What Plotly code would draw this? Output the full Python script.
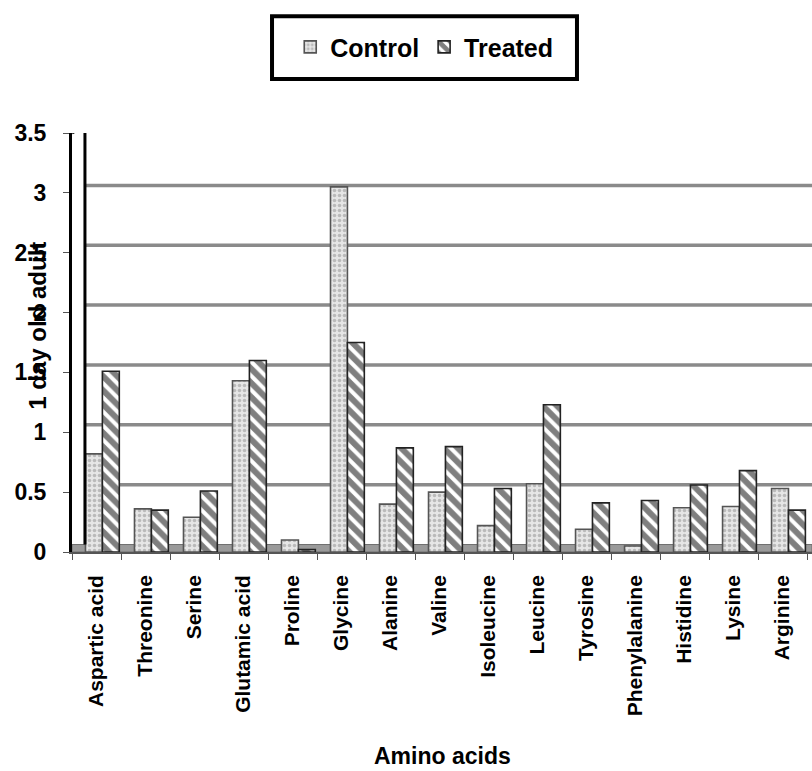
import plotly.graph_objects as go

categories = ["Aspartic acid", "Threonine", "Serine", "Glutamic acid", "Proline",
              "Glycine", "Alanine", "Valine", "Isoleucine", "Leucine", "Tyrosine",
              "Phenylalanine", "Histidine", "Lysine", "Arginine"]
control = [0.82, 0.36, 0.29, 1.43, 0.10, 3.05, 0.40, 0.50, 0.22, 0.57, 0.19, 0.05, 0.37, 0.38, 0.53]
treated = [1.51, 0.35, 0.51, 1.60, 0.02, 1.75, 0.87, 0.88, 0.53, 1.23, 0.41, 0.43, 0.56, 0.68, 0.35]
y_ticks = [0, 0.5, 1, 1.5, 2, 2.5, 3, 3.5]
y_tick_text = ["0", "0.5", "1", "1.5", "2", "2.5", "3", "3.5"]

FONT = "Liberation Sans, Arial, sans-serif"
DEPTH = 0.0625   # back-wall offset in y units (3D look)
BAR_W = 0.345
SHIFT = 0.12     # bars sit at mid-depth, slightly right of the category centre

fig = go.Figure()
fig.add_trace(go.Bar(
    name="Control", x=categories, y=control,
    width=BAR_W, offset=SHIFT - BAR_W,
    marker=dict(color="#e2e2e2",
                line=dict(color="#555555", width=1.6),
                pattern=dict(shape=".", fgcolor="#8e8e8e", bgcolor="#e6e6e6",
                             size=5, solidity=0.4)),
))
fig.add_trace(go.Bar(
    name="Treated", x=categories, y=treated,
    width=BAR_W, offset=SHIFT,
    marker=dict(color="white",
                line=dict(color="#222222", width=1.6),
                pattern=dict(shape="\\", fgcolor="#000000", bgcolor="white",
                             size=10, solidity=0.6)),
))

fig.update_layout(
    width=812, height=771,
    margin=dict(l=72, r=0, t=133, b=219),
    paper_bgcolor="white", plot_bgcolor="white",
    barmode="overlay",
    font=dict(family=FONT, size=21, color="black", weight="bold"),
    showlegend=True,
    legend=dict(orientation="h", x=0.476, y=1.205, xanchor="center", yanchor="middle",
                font=dict(family=FONT, size=25, color="black", weight="bold"),
                bgcolor="rgba(0,0,0,0)", borderwidth=0, itemwidth=30,
                traceorder="normal"),
    xaxis=dict(range=[-0.5, 14.6], type="category", tickangle=-90,
               ticks="outside", ticklen=6, tickcolor="#555", tickson="boundaries",
               showgrid=False, showline=True, linecolor="#555", linewidth=1.5,
               tickfont=dict(family=FONT, size=21, color="black", weight="bold"),
               ticklabelstandoff=13, zeroline=False),
    yaxis=dict(range=[0, 3.5], tickvals=y_ticks, ticktext=y_tick_text,
               ticks="outside", ticklen=6, tickcolor="#555", showgrid=False,
               showline=True, linecolor="black", linewidth=3, zeroline=False,
               tickfont=dict(family=FONT, size=23, color="black", weight="bold"),
               ticklabelstandoff=12),
)

# back-wall gridlines (raised by the depth offset), floor and frame
for t in y_ticks[1:-1]:
    fig.add_shape(type="line", xref="paper", yref="y", x0=0.0175, x1=1,
                  y0=t + DEPTH, y1=t + DEPTH,
                  line=dict(color="#8a8a8a", width=3.5), layer="below")
fig.add_shape(type="rect", xref="paper", yref="y", x0=0, x1=1, y0=0, y1=DEPTH,
              fillcolor="#9a9a9a", line=dict(color="#6f6f6f", width=1), layer="below")
fig.add_shape(type="line", xref="paper", yref="y", x0=0.0175, x1=1,
              y0=y_ticks[-1] + DEPTH, y1=y_ticks[-1] + DEPTH,
              line=dict(color="black", width=3.5))
fig.add_shape(type="line", xref="paper", yref="y", x0=0.0175, x1=0.0175,
              y0=DEPTH, y1=y_ticks[-1] + DEPTH, line=dict(color="black", width=3))
fig.add_shape(type="line", xref="paper", yref="y", x0=0, x1=0.0175,
              y0=y_ticks[-1], y1=y_ticks[-1] + DEPTH, line=dict(color="black", width=3))

# legend box
fig.add_shape(type="rect", xref="paper", yref="paper",
              x0=0.2703, x1=0.6824, y0=1.1286, y1=1.2786,
              line=dict(color="black", width=4), fillcolor="rgba(0,0,0,0)")

fig.add_annotation(text="1 day old adult", xref="paper", yref="paper",
                   x=-0.046, y=0.54, textangle=-90, showarrow=False,
                   xanchor="center", yanchor="middle",
                   font=dict(family=FONT, size=24, color="black", weight="bold"))
fig.add_annotation(text="Amino acids", xref="paper", yref="paper",
                   x=0.5, y=-0.486, showarrow=False, xanchor="center", yanchor="middle",
                   font=dict(family=FONT, size=23, color="black", weight="bold"))

fig.write_html("out.html")
